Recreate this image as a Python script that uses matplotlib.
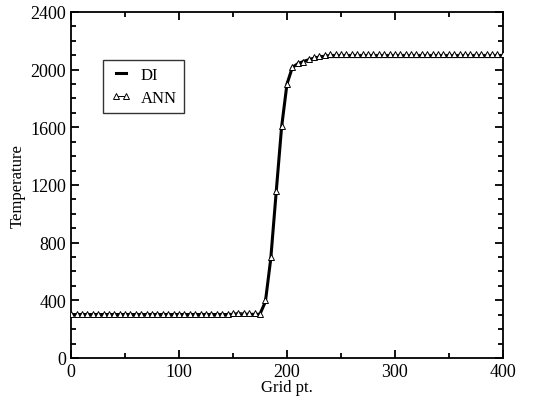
import numpy as np
import matplotlib
matplotlib.use("Agg")
import matplotlib.pyplot as plt
from matplotlib.ticker import MultipleLocator

plt.rcParams["font.family"] = ["Liberation Serif", "DejaVu Serif"]

# grid points sampled every 5 cells
grid_pt = np.arange(0, 401, 5)

di_temp = np.array(
    [300] * 35
    + [305, 390, 690, 1150, 1600, 1900, 2015, 2040, 2055, 2068, 2078, 2085, 2088]
    + [2090] * 33
)
ann_temp = np.array(
    [308] * 30
    + [310, 315, 312, 310, 310, 305, 400, 700, 1160, 1610, 1900, 2015, 2045,
       2055, 2070, 2085, 2095, 2100]
    + [2105] * 33
)

fig = plt.figure(figsize=(5.43, 4.02), dpi=100)
ax = fig.add_axes([0.131, 0.107, 0.795, 0.861])

ax.plot(grid_pt, di_temp, color="black", lw=2.2, label="DI", zorder=3)
ax.plot(grid_pt, ann_temp, color="black", lw=0.7, marker="^", ms=4.5,
        mfc="white", mec="black", mew=0.7, label="ANN", zorder=4)

ax.set_xlim(0, 400)
ax.set_ylim(0, 2400)
ax.xaxis.set_major_locator(MultipleLocator(100))
ax.xaxis.set_minor_locator(MultipleLocator(50))
ax.yaxis.set_major_locator(MultipleLocator(400))
ax.yaxis.set_minor_locator(MultipleLocator(100))
ax.tick_params(which="both", direction="in", top=True, right=True,
               labelsize=13, width=1.3)
ax.tick_params(which="major", length=6)
ax.tick_params(which="minor", length=3.5)
for s in ax.spines.values():
    s.set_linewidth(1.3)

ax.set_xlabel("Grid pt.", fontsize=12)
ax.set_ylabel("Temperature", fontsize=12)
ax.xaxis.set_label_coords(0.5, -0.062)
ax.yaxis.set_label_coords(-0.105, 0.5)

leg = ax.legend(loc="upper left", bbox_to_anchor=(0.074, 0.862), fontsize=12,
                frameon=True, fancybox=False, edgecolor="black",
                borderaxespad=0, numpoints=2, handlelength=1.2,
                borderpad=0.45, labelspacing=0.4, handletextpad=0.6)
leg.get_frame().set_linewidth(1.0)

fig.savefig("out.png", dpi=100)
